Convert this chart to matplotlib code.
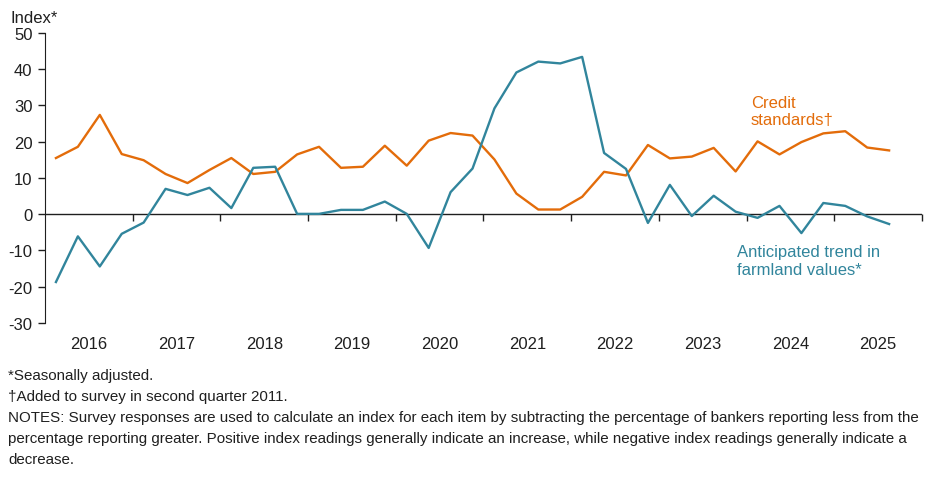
import matplotlib
matplotlib.use("Agg")
import matplotlib.pyplot as plt
import numpy as np

plt.rcParams['font.family'] = ['Liberation Sans', 'DejaVu Sans']
plt.rcParams['axes.unicode_minus'] = False

# Quarterly readings, 2016:Q1 through 2025:Q3
years = ['2016', '2017', '2018', '2019', '2020', '2021', '2022', '2023', '2024', '2025']
credit_standards = [15.5, 18.6, 27.4, 16.6, 14.9, 11.1, 8.6, 12.2, 15.5, 11.1,
                    11.7, 16.5, 18.6, 12.8, 13.1, 18.9, 13.4, 20.3, 22.4, 21.7,
                    15.1, 5.7, 1.3, 1.3, 4.8, 11.7, 10.7, 19.1, 15.4, 15.9,
                    18.3, 11.8, 20.1, 16.5, 19.9, 22.3, 22.9, 18.4, 17.6]
farmland_trend = [-18.7, -6.1, -14.4, -5.4, -2.3, 7.0, 5.3, 7.3, 1.7, 12.8,
                  13.1, 0.1, 0.1, 1.2, 1.2, 3.5, 0.1, -9.3, 6.1, 12.6,
                  29.2, 39.1, 42.1, 41.6, 43.4, 16.9, 12.5, -2.4, 8.1, -0.5,
                  5.1, 0.7, -1.0, 2.3, -5.2, 3.1, 2.3, -0.6, -2.7]

orange = '#E36C0A'
teal = '#31859C'
ink = '#1f1f1f'

fig = plt.figure(figsize=(9.41, 4.81), dpi=100)
ax = fig.add_axes([0.0478, 0.3264, 0.932, 0.603])

x = np.arange(len(credit_standards)) + 0.5
ax.plot(x, credit_standards, color=orange, lw=1.7)
ax.plot(x, farmland_trend, color=teal, lw=1.7)
ax.axhline(0, color=ink, lw=1.0, zorder=1)

ax.set_xlim(0, 4 * len(years))
ax.set_ylim(-30, 50)
ax.set_yticks(range(-30, 51, 10))
ax.tick_params(axis='y', direction='out', length=5, width=1, labelsize=12,
               colors=ink, pad=4)

for s in ['top', 'right', 'bottom']:
    ax.spines[s].set_visible(False)
ax.spines['left'].set_color(ink)

# year labels centered in each year's span
ax.set_xticks([])
ax.set_xticks(np.arange(len(years)) * 4 + 2, minor=True)
ax.set_xticklabels(years, minor=True)
ax.tick_params(axis='x', which='minor', length=0, labelsize=12, pad=9,
               colors=ink)

# year boundary tick marks on the zero line
sec = ax.secondary_xaxis(30 / 80)
sec.set_xticks(np.arange(1, len(years) + 1) * 4)
sec.set_xticklabels([])
sec.tick_params(direction='out', length=5, width=1, colors=ink)
sec.spines['bottom'].set_visible(False)

fig.text(0.011, 0.977, 'Index*', fontsize=12, color=ink, va='top')

ax.text(0.805, 0.787, 'Credit\nstandards\u2020', transform=ax.transAxes,
        color=orange, fontsize=12, va='top', linespacing=1.2)
ax.text(0.789, 0.272, 'Anticipated trend in\nfarmland values*',
        transform=ax.transAxes, color=teal, fontsize=12, va='top',
        linespacing=1.2)

notes = ('*Seasonally adjusted.\n'
         '\u2020Added to survey in second quarter 2011.\n'
         'NOTES: Survey responses are used to calculate an index for each item by subtracting the percentage of bankers reporting less from the\n'
         'percentage reporting greater. Positive index readings generally indicate an increase, while negative index readings generally indicate a\n'
         'decrease.')
fig.text(0.0085, 0.232, notes, fontsize=10.9, color=ink, va='top',
         linespacing=1.62)

fig.savefig('out.png', dpi=100)
